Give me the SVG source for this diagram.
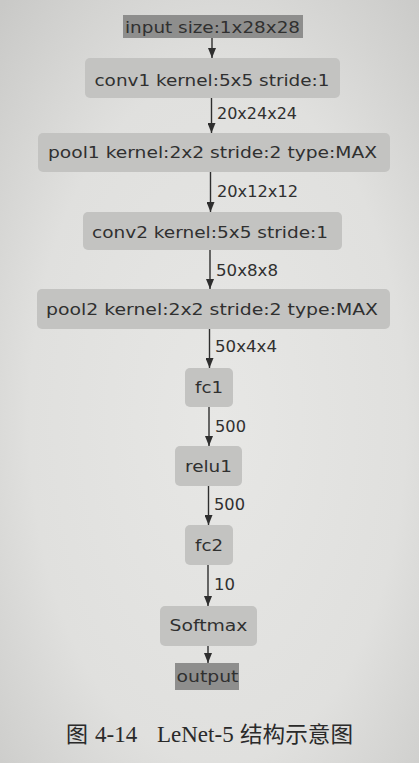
<svg xmlns="http://www.w3.org/2000/svg" width="419" height="763" viewBox="0 0 419 763">
  <defs>
    <radialGradient id="paper" cx="0.52" cy="0.55" r="0.75">
      <stop offset="0" stop-color="#e7e7e5"/>
      <stop offset="0.6" stop-color="#e0e0de"/>
      <stop offset="1" stop-color="#c9c9c7"/>
    </radialGradient>
    <marker id="arrow" markerWidth="10" markerHeight="8" refX="10" refY="4" orient="auto" markerUnits="userSpaceOnUse" viewBox="0 0 10 8">
      <path d="M0,0 L10,4 L0,8 Z" fill="#2e2e2e"/>
    </marker>
    <style>
      .layer { fill: #c3c3c1; }
      .io { fill: #8e8e8d; }
      .lbl { font-family: "DejaVu Sans", Verdana, sans-serif; font-size: 16px; fill: #303030; text-anchor: middle; }
      .dim { font-family: "DejaVu Sans", Verdana, sans-serif; font-size: 16px; fill: #303030; }
      .edge { stroke: #2e2e2e; stroke-width: 1.4; fill: none; }
      .cap { font-family: "Liberation Serif", "Noto Sans CJK SC", serif; font-size: 23px; fill: #2a2a2a; }
      .capcjk { font-family: "Noto Sans CJK SC", "Liberation Serif", sans-serif; font-size: 22px; fill: #2a2a2a; }
    </style>
  </defs>

  <!-- page -->
  <rect width="419" height="763" fill="url(#paper)"/>

  <!-- connectors -->
  <g id="edges">
    <line class="edge" x1="212" y1="38" x2="212" y2="58" marker-end="url(#arrow)"/>
    <line class="edge" x1="211.5" y1="98" x2="211.5" y2="133" marker-end="url(#arrow)"/>
    <text class="dim" x="217" y="119" textLength="80" lengthAdjust="spacingAndGlyphs">20x24x24</text>
    <line class="edge" x1="210.5" y1="172" x2="210.5" y2="212" marker-end="url(#arrow)"/>
    <text class="dim" x="217" y="197" textLength="81" lengthAdjust="spacingAndGlyphs">20x12x12</text>
    <line class="edge" x1="210" y1="250" x2="210" y2="289" marker-end="url(#arrow)"/>
    <text class="dim" x="216" y="276" textLength="62" lengthAdjust="spacingAndGlyphs">50x8x8</text>
    <line class="edge" x1="209.5" y1="329" x2="209.5" y2="368" marker-end="url(#arrow)"/>
    <text class="dim" x="215" y="352" textLength="62" lengthAdjust="spacingAndGlyphs">50x4x4</text>
    <line class="edge" x1="209" y1="407" x2="209" y2="446" marker-end="url(#arrow)"/>
    <text class="dim" x="215" y="432" textLength="31" lengthAdjust="spacingAndGlyphs">500</text>
    <line class="edge" x1="208.5" y1="486" x2="208.5" y2="525" marker-end="url(#arrow)"/>
    <text class="dim" x="214" y="510" textLength="31" lengthAdjust="spacingAndGlyphs">500</text>
    <line class="edge" x1="208" y1="565" x2="208" y2="606" marker-end="url(#arrow)"/>
    <text class="dim" x="214" y="590" textLength="21" lengthAdjust="spacingAndGlyphs">10</text>
    <line class="edge" x1="208" y1="646" x2="208" y2="663" marker-end="url(#arrow)"/>
  </g>

  <!-- layers -->
  <g id="input">
    <rect class="io" x="123" y="15" width="180" height="23"/>
    <text class="lbl" x="212.5" y="33" textLength="175" lengthAdjust="spacingAndGlyphs">input size:1x28x28</text>
  </g>
  <g id="conv1">
    <rect class="layer" x="85" y="58" width="255" height="40" rx="5"/>
    <text class="lbl" x="212" y="86" textLength="235" lengthAdjust="spacingAndGlyphs">conv1 kernel:5x5 stride:1</text>
  </g>
  <g id="pool1">
    <rect class="layer" x="38" y="133" width="352" height="39" rx="5"/>
    <text class="lbl" x="212.5" y="158" textLength="329" lengthAdjust="spacingAndGlyphs">pool1 kernel:2x2 stride:2 type:MAX</text>
  </g>
  <g id="conv2">
    <rect class="layer" x="83" y="212" width="259" height="38" rx="5"/>
    <text class="lbl" x="210" y="238" textLength="236" lengthAdjust="spacingAndGlyphs">conv2 kernel:5x5 stride:1</text>
  </g>
  <g id="pool2">
    <rect class="layer" x="37" y="289" width="353" height="40" rx="5"/>
    <text class="lbl" x="212" y="315" textLength="332" lengthAdjust="spacingAndGlyphs">pool2 kernel:2x2 stride:2 type:MAX</text>
  </g>
  <g id="fc1">
    <rect class="layer" x="185" y="368" width="48" height="39" rx="5"/>
    <text class="lbl" x="209" y="393" textLength="28" lengthAdjust="spacingAndGlyphs">fc1</text>
  </g>
  <g id="relu1">
    <rect class="layer" x="175" y="446" width="67" height="40" rx="5"/>
    <text class="lbl" x="208.5" y="472" textLength="47" lengthAdjust="spacingAndGlyphs">relu1</text>
  </g>
  <g id="fc2">
    <rect class="layer" x="185" y="525" width="48" height="40" rx="5"/>
    <text class="lbl" x="209" y="551" textLength="28" lengthAdjust="spacingAndGlyphs">fc2</text>
  </g>
  <g id="softmax">
    <rect class="layer" x="160" y="606" width="97" height="40" rx="5"/>
    <text class="lbl" x="208.5" y="631" textLength="78" lengthAdjust="spacingAndGlyphs">Softmax</text>
  </g>
  <g id="output">
    <rect class="io" x="175" y="663" width="64" height="27"/>
    <text class="lbl" x="207.5" y="682" textLength="62" lengthAdjust="spacingAndGlyphs">output</text>
  </g>

  <!-- figure caption -->
  <g id="caption">
    <text class="capcjk" x="66" y="742">图</text>
    <text class="cap" x="95" y="742">4-14</text>
    <text class="cap" x="157" y="742">LeNet-5</text>
    <text class="capcjk" x="240" y="742" textLength="113" lengthAdjust="spacingAndGlyphs">结构示意图</text>
  </g>
</svg>
